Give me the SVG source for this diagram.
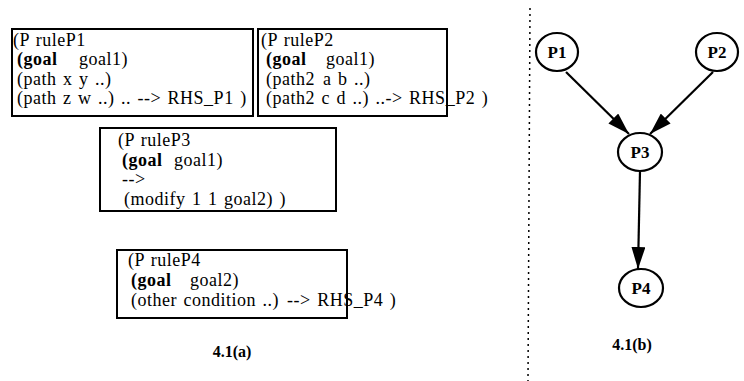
<svg xmlns="http://www.w3.org/2000/svg" width="744" height="381" viewBox="0 0 744 381">
<style>
.box{fill:#fff;stroke:#000;stroke-width:2}
.t{font-family:'Liberation Serif','DejaVu Serif',serif;font-size:18px;letter-spacing:0.5px;word-spacing:1.5px;fill:#000}
.b{font-weight:bold}
.node{fill:#fff;stroke:#000;stroke-width:2.2}
.nt{font-family:'Liberation Serif','DejaVu Serif',serif;font-size:17px;font-weight:bold;text-anchor:middle;fill:#000}
.cap{font-family:'Liberation Serif','DejaVu Serif',serif;font-size:16px;font-weight:bold;text-anchor:middle;fill:#000}
.edge{stroke:#000;stroke-width:2.2;fill:none}
</style>
<defs>
<marker id="arr" viewBox="0 0 22 14" refX="22" refY="7" markerWidth="22" markerHeight="14" markerUnits="userSpaceOnUse" orient="auto">
<path d="M0,0 L22,7 L0,14 z" fill="#000"/>
</marker>
</defs>
<g id="ruleP1">
<rect class="box" x="12" y="29" width="241" height="87"/>
<text class="t" x="13" y="46">(P ruleP1</text>
<text class="t" x="17" y="65"><tspan class="b">(goal</tspan><tspan x="79">goal1)</tspan></text>
<text class="t" x="17" y="85">(path x y ..)</text>
<text class="t" x="17" y="104">(path z w ..) .. --&gt; RHS_P1 )</text>
</g>
<g id="ruleP2">
<rect class="box" x="258" y="29" width="189" height="87"/>
<text class="t" x="261" y="46">(P ruleP2</text>
<text class="t" x="266" y="65"><tspan class="b">(goal</tspan><tspan x="326">goal1)</tspan></text>
<text class="t" x="266" y="85">(path2 <tspan x="323">a b ..)</tspan></text>
<text class="t" x="266" y="104">(path2 c d ..) ..-&gt; RHS_P2 )</text>
</g>
<g id="ruleP3">
<rect class="box" x="100" y="128" width="236" height="83"/>
<text class="t" x="118" y="146">(P ruleP3</text>
<text class="t" x="122" y="166"><tspan class="b">(goal</tspan><tspan x="174">goal1)</tspan></text>
<text class="t" x="122" y="185">--&gt;</text>
<text class="t" x="124" y="205">(modify 1 1 goal2) )</text>
</g>
<g id="ruleP4">
<rect class="box" x="117" y="250" width="230" height="68"/>
<text class="t" x="128" y="266">(P ruleP4</text>
<text class="t" x="131" y="286"><tspan class="b">(goal</tspan><tspan x="190">goal2)</tspan></text>
<text class="t" x="131" y="306">(other condition ..) <tspan x="287">--&gt; RHS_P4 )</tspan></text>
</g>
<text class="cap" x="232" y="357">4.1(a)</text>
<line x1="530" y1="8" x2="528" y2="381" stroke="#000" stroke-width="1.5" stroke-dasharray="2,4"/>
<g id="connectors">
<line class="edge" x1="566" y1="72" x2="629" y2="134" marker-end="url(#arr)"/>
<line class="edge" x1="713" y1="72" x2="650" y2="134" marker-end="url(#arr)"/>
<line class="edge" x1="640" y1="171" x2="638" y2="269" marker-end="url(#arr)"/>
</g>
<g id="P1"><ellipse class="node" cx="557" cy="52" rx="21" ry="19"/><text class="nt" x="557" y="58">P1</text></g>
<g id="P2"><ellipse class="node" cx="717" cy="52" rx="21" ry="19"/><text class="nt" x="717" y="58">P2</text></g>
<g id="P3"><ellipse class="node" cx="640" cy="152" rx="22" ry="19"/><text class="nt" x="640" y="158">P3</text></g>
<g id="P4"><ellipse class="node" cx="641" cy="288" rx="22" ry="19"/><text class="nt" x="641" y="294">P4</text></g>
<text class="cap" x="632" y="350">4.1(b)</text>
</svg>
